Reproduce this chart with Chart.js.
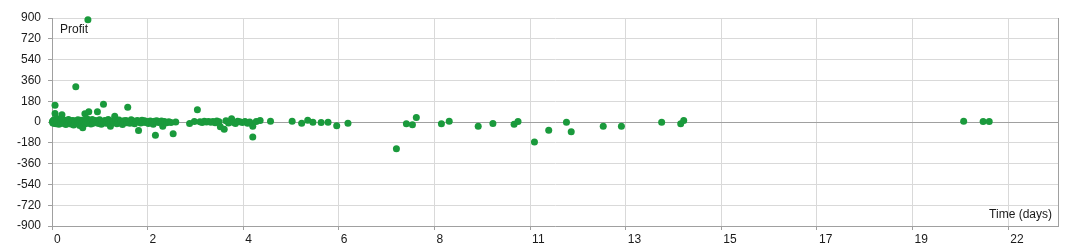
<!DOCTYPE html>
<html>
<head>
<meta charset="utf-8">
<script src="https://cdn.jsdelivr.net/npm/chart.js@4"></script>
<style>
  html, body { margin: 0; padding: 0; background: #fff; }
  #wrap { width: 1075px; height: 250px; }
</style>
</head>
<body>
<div id="wrap"><canvas id="scatter"></canvas></div>
<script>
// time of each trade (days) and its profit
const days = [
  0.01, 0.02, 0.03, 0.04, 0.05, 0.06, 0.07, 0.07, 0.08, 0.1, 0.11, 0.12, 0.14, 0.15, 0.16, 0.18,
  0.2, 0.21, 0.23, 0.23, 0.25, 0.27, 0.28, 0.3, 0.32, 0.33, 0.35, 0.37, 0.38, 0.4, 0.42, 0.44,
  0.45, 0.47, 0.49, 0.5, 0.52, 0.54, 0.55, 0.57, 0.59, 0.6, 0.62, 0.64, 0.65, 0.67, 0.69, 0.71,
  0.72, 0.74, 0.76, 0.77, 0.79, 0.81, 0.83, 0.83, 0.85, 0.87, 0.9, 0.91, 0.93, 0.95, 0.97, 0.99,
  1.01, 1.03, 1.05, 1.07, 1.08, 1.1, 1.12, 1.14, 1.16, 1.19, 1.2, 1.22, 1.25, 1.27, 1.3, 1.32,
  1.35, 1.37, 1.4, 1.42, 1.45, 1.47, 1.5, 1.53, 1.55, 1.58, 1.6, 1.63, 1.66, 1.68, 1.71, 1.73,
  1.75, 1.78, 1.8, 1.83, 1.86, 1.88, 1.91, 1.94, 1.97, 2.0, 2.02, 2.05, 2.08, 2.11, 2.14, 2.17,
  2.2, 2.23, 2.27, 2.3, 2.34, 2.37, 2.39, 2.42, 2.46, 2.5, 2.53, 2.56, 2.6, 2.65, 2.7, 2.75,
  2.8, 2.86,
  3.18, 3.29, 3.36, 3.42, 3.47, 3.52, 3.57, 3.62, 3.67, 3.72, 3.77, 3.81, 3.86, 3.89, 3.98, 4.02,
  4.08, 4.15, 4.2, 4.24, 4.29, 4.34, 4.4, 4.46, 4.52, 4.57, 4.64, 4.64, 4.72, 4.81, 5.05,
  5.55, 5.77, 5.91, 6.03, 6.22, 6.38, 6.58, 6.84, 7.96, 8.19, 8.33, 8.42, 9.0, 9.18, 9.85, 10.19,
  10.68, 10.77, 11.15, 11.48, 11.89, 12.0, 12.74, 13.16, 14.09, 14.53, 14.6, 21.07, 21.52, 21.66
];
const profit = [
  5, -8, 12, -3, 20, -12, 145, 73, 8, -15, 30, 2, -6, 15, -20, 4,
  10, -10, 62, 25, -4, 18, -14, 6, -22, 12, 0, -9, 22, -5, 8, -18,
  3, 14, -7, -25, 10, -2, 304, 5, -12, 20, -4, -30, 8, 16, -6, -50,
  12, -3, 71, -15, 6, 28, 885, -8, 88, 10, -18, 4, 22, -10, 6, -2,
  12, -6, 88, 4, -14, 20, 8, -20, 2, 154, -4, 14, -10, 6, 22, -12,
  -36, 4, 10, -5, 50, 8, -15, 2, 18, -8, 5, -22, 10, -3, 14, -6,
  128, 2, -10, 20, -4, 8, -16, 4, 12, -73, 6, -8, 16, -2, 10, -5,
  4, -12, 8, 2, -20, 6, -114, 10, -4, 2, 8, -36, 4, -6, 2, -4,
  -102, 0,
  -13, 4, 105, 2, -4, 6, 0, 4, -2, 5, -6, 8, 2, -41, -62, 10,
  -8, 28, -4, -13, 6, 2, -5, 4, -10, 0, -36, -130, 4, 13, 7,
  7, -10, 16, -2, -4, -2, -33, -10, -232, -16, -24, 39, -16, 7, -36, -13,
  -19, 4, -174, -71, -2, -85, -36, -36, -2, -16, 13, 7, 4, 4
];

const xTickValues = [0, 2.21, 4.42, 6.63, 8.84, 11.05, 13.26, 15.47, 17.68, 19.89, 22.1];
const xTickLabels = ["0", "2", "4", "6", "8", "11", "13", "15", "17", "19", "22"];
const yTickStep = 180;

const points = days.map((d, i) => ({ x: d, y: profit[i] }));

const axisTitles = {
  id: "axisTitles",
  afterDraw(chart) {
    const { ctx, chartArea } = chart;
    ctx.save();
    ctx.strokeStyle = "#a0a0a0";
    ctx.lineWidth = 1;
    ctx.beginPath();
    ctx.moveTo(Math.round(chartArea.right) + 0.5, chartArea.top);
    ctx.lineTo(Math.round(chartArea.right) + 0.5, chartArea.bottom);
    ctx.stroke();
    ctx.fillStyle = "#1a1a1a";
    ctx.font = "12px 'Liberation Sans', Arial, sans-serif";
    ctx.textAlign = "left";
    ctx.textBaseline = "top";
    ctx.fillText("Profit", chartArea.left + 8, chartArea.top + 6);
    ctx.textAlign = "right";
    ctx.textBaseline = "bottom";
    ctx.fillText("Time (days)", chartArea.right - 6, chartArea.bottom - 5);
    ctx.restore();
  }
};

const ctx = document.getElementById("scatter").getContext("2d");
new Chart(ctx, {
  type: "scatter",
  data: {
    datasets: [{
      data: points,
      backgroundColor: "#1a9a3c",
      borderColor: "#1a9a3c",
      pointRadius: 3.5,
      pointHoverRadius: 3.5,
      borderWidth: 0,
      clip: false
    }]
  },
  options: {
    responsive: true,
    maintainAspectRatio: false,
    animation: false,
    layout: { padding: { top: 18, right: 17, bottom: 0, left: 0 } },
    plugins: {
      legend: { display: false },
      tooltip: { enabled: false }
    },
    scales: {
      x: {
        type: "linear",
        min: 0,
        max: 23.25,
        afterBuildTicks: (axis) => {
          axis.ticks = xTickValues.map((v) => ({ value: v }));
        },
        afterFit: (scale) => { scale.height = 24; },
        grid: {
          color: "#d9d9d9",
          tickColor: "#a0a0a0",
          tickLength: 4
        },
        border: { color: "#a0a0a0" },
        ticks: {
          align: "start",
          labelOffset: 2,
          padding: 2,
          maxRotation: 0,
          autoSkip: false,
          color: "#1a1a1a",
          font: { family: "'Liberation Sans', Arial, sans-serif", size: 12 },
          callback: (value, index) => xTickLabels[index]
        }
      },
      y: {
        min: -900,
        max: 900,
        afterFit: (scale) => { scale.width = 52; },
        grid: {
          color: (c) => (c.tick && c.tick.value === 0 ? "#a0a0a0" : "#d9d9d9"),
          tickColor: "#a0a0a0",
          tickLength: 4
        },
        border: { color: "#a0a0a0" },
        ticks: {
          stepSize: yTickStep,
          padding: 7,
          color: "#1a1a1a",
          font: { family: "'Liberation Sans', Arial, sans-serif", size: 12 }
        }
      }
    }
  },
  plugins: [axisTitles]
});
</script>
</body>
</html>
